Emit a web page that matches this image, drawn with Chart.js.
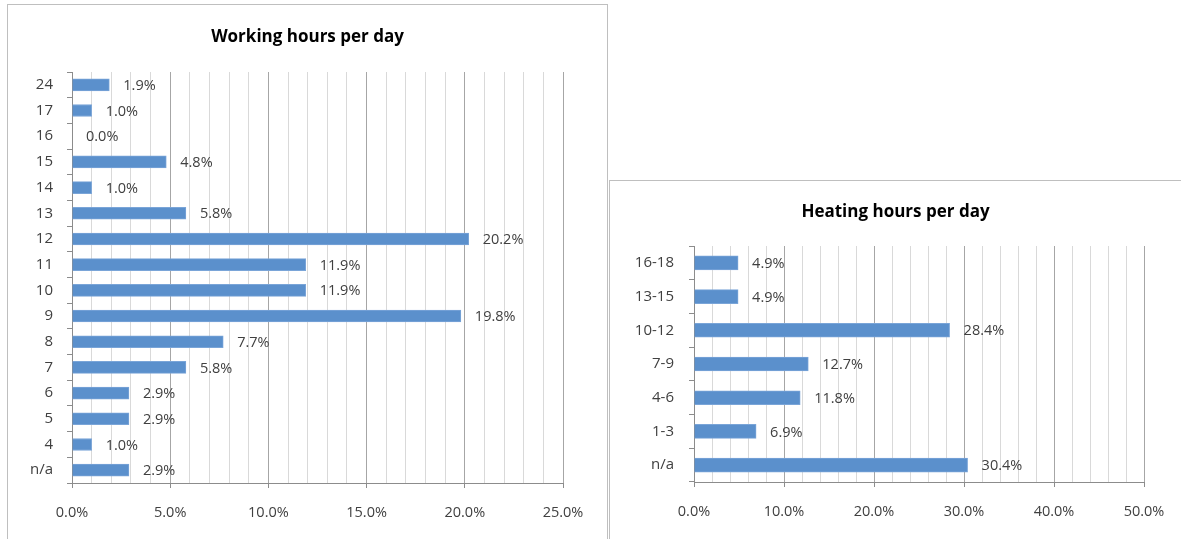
<!DOCTYPE html>
<html>
<head>
<meta charset="utf-8">
<script src="https://cdn.jsdelivr.net/npm/chart.js@4"></script>
<style>
  body { margin: 0; background: #fff; width: 1181px; height: 539px; overflow: hidden; position: relative; }
  .box { position: absolute; border: 1px solid #bfbfbf; background: #fff; }
  #boxWork { left: 7px; top: 4px; width: 599px; height: 540px; }
  #boxHeat { left: 609px; top: 180px; width: 580px; height: 370px; }
  canvas { position: absolute; left: 0; top: 0; }
</style>
</head>
<body>
<div class="box" id="boxWork"><canvas id="workChart" width="599" height="534"></canvas></div>
<div class="box" id="boxHeat"><canvas id="heatChart" width="571" height="358"></canvas></div>
<script>
// Working hours per day
var workLabels = ['24', '17', '16', '15', '14', '13', '12', '11', '10', '9', '8', '7', '6', '5', '4', 'n/a'];
var workValues = [1.9, 1.0, 0.0, 4.8, 1.0, 5.8, 20.2, 11.9, 11.9, 19.8, 7.7, 5.8, 2.9, 2.9, 1.0, 2.9];

// Heating hours per day
var heatLabels = ['16-18', '13-15', '10-12', '7-9', '4-6', '1-3', 'n/a'];
var heatValues = [4.9, 4.9, 28.4, 12.7, 11.8, 6.9, 30.4];

var fontFamily = "'Open Sans', 'Liberation Sans', sans-serif";
var barColor = '#5b90cc';

// draws the value next to the end of each bar
var valueLabels = {
    id: 'valueLabels',
    afterDatasetsDraw: function(chart) {
        var ctx = chart.ctx;
        var meta = chart.getDatasetMeta(0);
        var values = chart.data.datasets[0].data;
        ctx.save();
        ctx.font = '14.5px ' + fontFamily;
        ctx.fillStyle = '#404040';
        ctx.textAlign = 'left';
        ctx.textBaseline = 'middle';
        meta.data.forEach(function(bar, i) {
            ctx.fillText(values[i].toFixed(1) + '%', bar.x + 14, bar.y + 1);
        });
        ctx.restore();
    }
};

// title centred on the whole box, like the spreadsheet chart
var boxTitle = {
    id: 'boxTitle',
    afterDraw: function(chart, args, opts) {
        var ctx = chart.ctx;
        ctx.save();
        ctx.font = 'bold 17px ' + fontFamily;
        ctx.fillStyle = '#000';
        ctx.textAlign = 'center';
        ctx.textBaseline = 'middle';
        ctx.fillText(opts.text, chart.width / 2, opts.y);
        ctx.restore();
    }
};

function makeChart(id, labels, values, opts) {
    var ctx = document.getElementById(id);
    return new Chart(ctx, {
        type: 'bar',
        data: {
            labels: labels,
            datasets: [{
                data: values,
                backgroundColor: barColor,
                borderColor: '#7aa5d8',
                borderWidth: 1,
                barThickness: opts.barThickness
            }]
        },
        options: {
            indexAxis: 'y',
            responsive: false,
            animation: false,
            layout: {
                padding: { left: 0, right: opts.rightPad, top: opts.topPad, bottom: 0 }
            },
            plugins: {
                legend: { display: false },
                tooltip: { enabled: false },
                title: { display: false },
                boxTitle: { text: opts.title, y: opts.titleY }
            },
            scales: {
                x: {
                    min: 0,
                    max: opts.max,
                    afterFit: function(scale) { scale.height = opts.xHeight; },
                    border: { color: '#8c8c8c' },
                    grid: {
                        color: function(c) {
                            return c.tick && c.tick.value % opts.major === 0 ? '#a6a6a6' : '#d9d9d9';
                        },
                        tickColor: function(c) {
                            return c.tick && c.tick.value % opts.major === 0 ? '#8c8c8c' : 'rgba(0,0,0,0)';
                        },
                        tickLength: 5
                    },
                    ticks: {
                        stepSize: opts.step,
                        autoSkip: false,
                        maxRotation: 0,
                        padding: 16,
                        color: '#404040',
                        font: { family: fontFamily, size: 14.5 },
                        callback: function(value) {
                            return value % opts.major === 0 ? value.toFixed(1) + '%' : '';
                        }
                    }
                },
                y: {
                    afterFit: function(scale) { scale.width = opts.yWidth; },
                    border: { color: '#8c8c8c' },
                    grid: {
                        drawOnChartArea: false,
                        color: '#8c8c8c',
                        tickLength: 5
                    },
                    ticks: {
                        padding: opts.yPad,
                        color: '#404040',
                        font: { family: fontFamily, size: 15 }
                    }
                }
            }
        },
        plugins: [valueLabels, boxTitle]
    });
}

var workChart = makeChart('workChart', workLabels, workValues, {
    title: 'Working hours per day',
    titleY: 32, topPad: 67,
    max: 25, step: 1, major: 5,
    yWidth: 64, yPad: 14, rightPad: 44,
    xHeight: 56,
    barThickness: 12
});

var heatChart = makeChart('heatChart', heatLabels, heatValues, {
    title: 'Heating hours per day',
    titleY: 31, topPad: 65,
    max: 50, step: 2, major: 10,
    yWidth: 84, yPad: 15, rightPad: 37,
    xHeight: 57,
    barThickness: 14
});
</script>
</body>
</html>
